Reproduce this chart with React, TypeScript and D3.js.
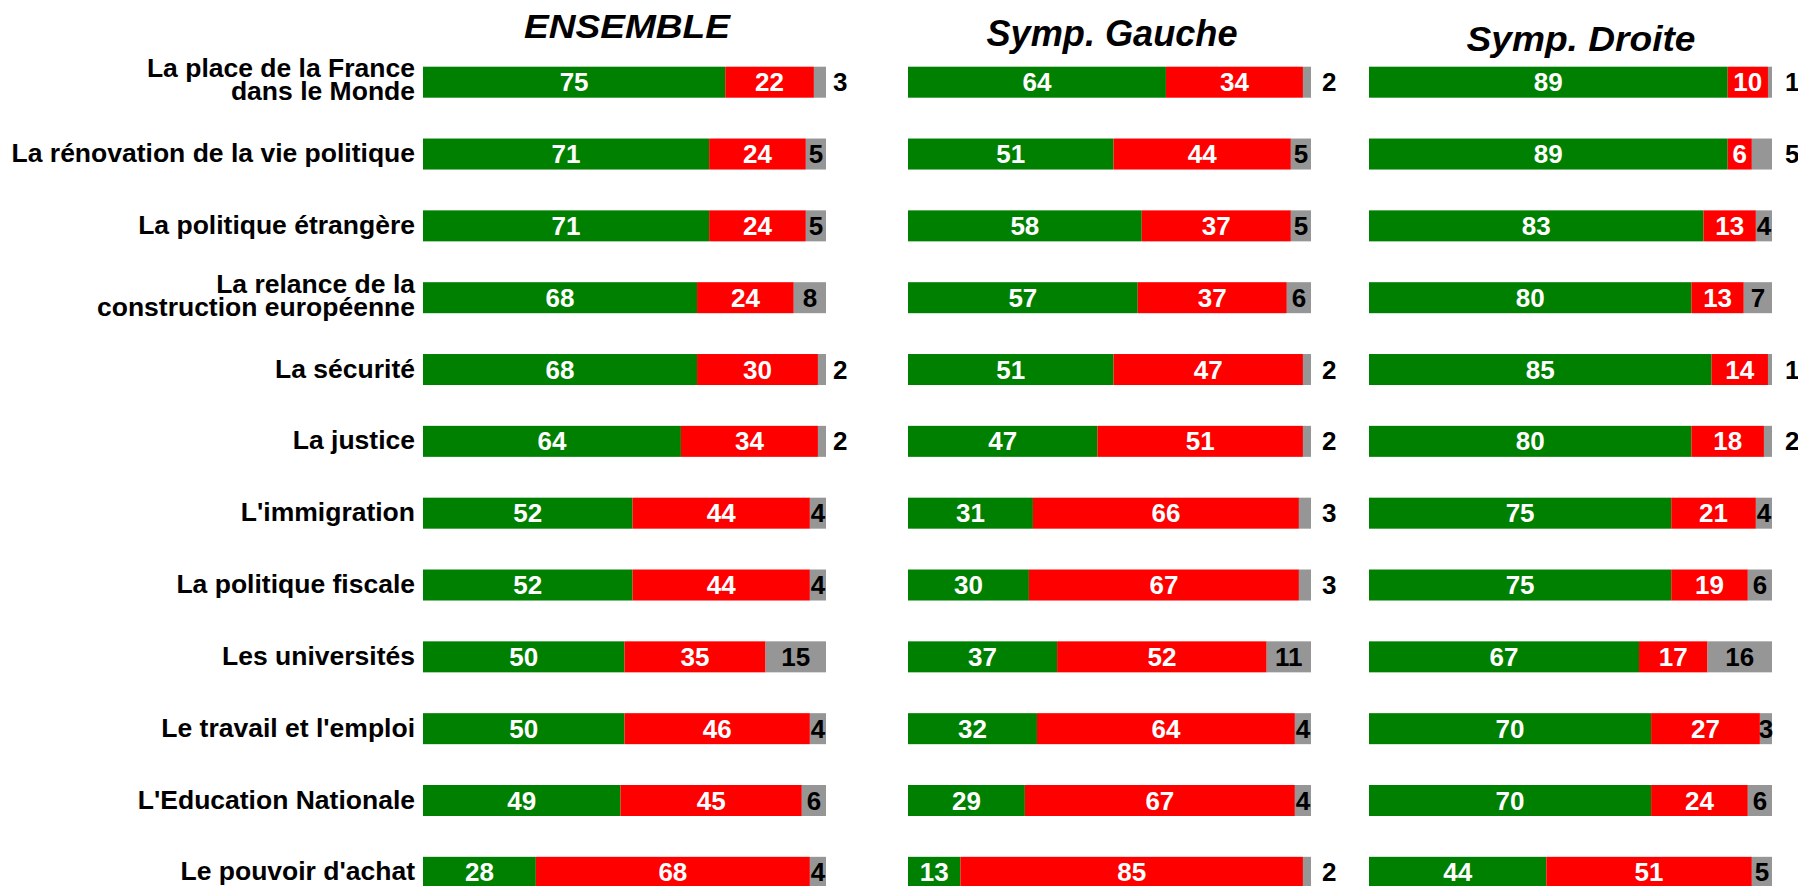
import React from "react";
import * as d3 from "d3";

const categories: string[][] = [
  ["La place de la France", "dans le Monde"],
  ["La rénovation de la vie politique"],
  ["La politique étrangère"],
  ["La relance de la", "construction européenne"],
  ["La sécurité"],
  ["La justice"],
  ["L'immigration"],
  ["La politique fiscale"],
  ["Les universités"],
  ["Le travail et l'emploi"],
  ["L'Education Nationale"],
  ["Le pouvoir d'achat"],
];

const panelTitles = ["ENSEMBLE", "Symp. Gauche", "Symp. Droite"];

const ensembleGreen = [75, 71, 71, 68, 68, 64, 52, 52, 50, 50, 49, 28];
const ensembleRed = [22, 24, 24, 24, 30, 34, 44, 44, 35, 46, 45, 68];
const ensembleGray = [3, 5, 5, 8, 2, 2, 4, 4, 15, 4, 6, 4];

const gaucheGreen = [64, 51, 58, 57, 51, 47, 31, 30, 37, 32, 29, 13];
const gaucheRed = [34, 44, 37, 37, 47, 51, 66, 67, 52, 64, 67, 85];
const gaucheGray = [2, 5, 5, 6, 2, 2, 3, 3, 11, 4, 4, 2];

const droiteGreen = [89, 89, 83, 80, 85, 80, 75, 75, 67, 70, 70, 44];
const droiteRed = [10, 6, 13, 13, 14, 18, 21, 19, 17, 27, 24, 51];
const droiteGray = [1, 5, 4, 7, 1, 2, 4, 6, 16, 3, 6, 5];

// rows whose grey label sits outside the bar
const ensembleGrayOutside = [0, 4, 5];
const gaucheGrayOutside = [0, 4, 5, 6, 7, 11];
const droiteGrayOutside = [0, 1, 4, 5];

const FONT = "'Liberation Sans', Arial, Helvetica, sans-serif";
const GREEN = "#008000";
const RED = "#FF0000";
const GRAY = "#969696";

const panels = [
  { title: panelTitles[0], green: ensembleGreen, red: ensembleRed, gray: ensembleGray, outside: ensembleGrayOutside, x0: 423, gap: 7, tx: 627, ty: 38, tsize: 34, tlen: 206 },
  { title: panelTitles[1], green: gaucheGreen, red: gaucheRed, gray: gaucheGray, outside: gaucheGrayOutside, x0: 908, gap: 11, tx: 1112, ty: 46, tsize: 36, tlen: 251 },
  { title: panelTitles[2], green: droiteGreen, red: droiteRed, gray: droiteGray, outside: droiteGrayOutside, x0: 1369, gap: 13, tx: 1581, ty: 51, tsize: 35, tlen: 229 },
];

export default function App() {
  const W = 1798;
  const H = 886;
  const barH = 31;
  const ids = categories.map((_, i) => i);
  const y = d3.scalePoint<number>().domain(ids).range([82.2, 82.2 + 11 * 71.83]);
  const labelRight = 415;
  const labelSize = 26.5;

  return (
    <svg
      width={W}
      height={H}
      style={{ position: "absolute", left: 0, top: 0, background: "#fff" }}
      fontFamily={FONT}
    >
      <rect x={0} y={0} width={W} height={H} fill="#fff" />
      {categories.map((lines, i) => {
        const cy = y(i)!;
        if (lines.length === 1) {
          return (
            <text key={i} x={labelRight} y={cy + 8} textAnchor="end" fontSize={labelSize} fontWeight="bold" fill="#000">
              {lines[0]}
            </text>
          );
        }
        return (
          <text key={i} x={labelRight} y={cy - 5} textAnchor="end" fontSize={labelSize} fontWeight="bold" fill="#000">
            <tspan x={labelRight} y={cy - 5}>{lines[0]}</tspan>
            <tspan x={labelRight} y={cy + 18}>{lines[1]}</tspan>
          </text>
        );
      })}
      {panels.map((p, pi) => {
        const x = d3.scaleLinear().domain([0, 100]).range([p.x0, p.x0 + 403]);
        return (
          <g key={pi}>
            <text
              x={p.tx}
              y={p.ty}
              textAnchor="middle"
              fontSize={p.tsize}
              fontWeight="bold"
              fontStyle="italic"
              textLength={p.tlen}
              lengthAdjust="spacingAndGlyphs"
              fill="#000"
            >
              {p.title}
            </text>
            {ids.map((i) => {
              const cy = y(i)!;
              const top = cy - barH / 2;
              const g = p.green[i];
              const r = p.red[i];
              const gr = p.gray[i];
              const segs = [
                { v: g, s: 0, e: g, fill: GREEN, tc: "#fff" },
                { v: r, s: g, e: g + r, fill: RED, tc: "#fff" },
                { v: gr, s: g + r, e: g + r + gr, fill: GRAY, tc: "#000" },
              ];
              const out = p.outside.includes(i);
              return (
                <g key={i}>
                  {segs.map((s, si) => (
                    <rect key={si} x={x(s.s)} y={top} width={x(s.e) - x(s.s)} height={barH} fill={s.fill} />
                  ))}
                  {segs.map((s, si) => {
                    const isGrayOut = si === 2 && out;
                    const tx = isGrayOut ? x(s.e) + p.gap : (x(s.s) + x(s.e)) / 2;
                    return (
                      <text
                        key={"t" + si}
                        x={tx}
                        y={cy + 9}
                        textAnchor={isGrayOut ? "start" : "middle"}
                        fontSize={26}
                        fontWeight="bold"
                        fill={s.tc}
                      >
                        {s.v}
                      </text>
                    );
                  })}
                </g>
              );
            })}
          </g>
        );
      })}
    </svg>
  );
}
